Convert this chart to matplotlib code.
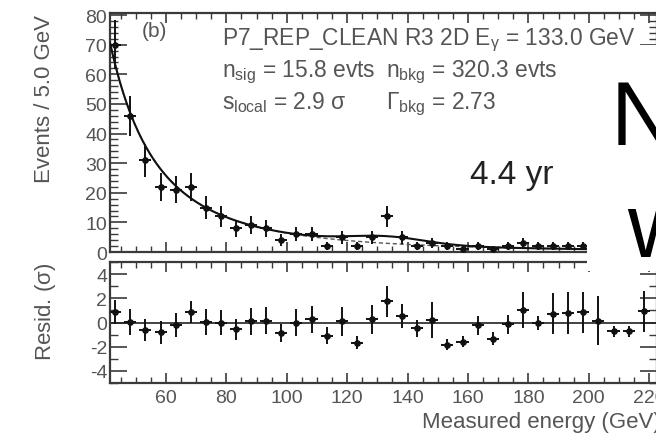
import numpy as np
import matplotlib
matplotlib.use("Agg")
import matplotlib.pyplot as plt
from matplotlib.patches import Rectangle
from matplotlib.ticker import MultipleLocator

plt.rcParams['font.family'] = ['Liberation Sans', 'DejaVu Sans']
plt.rcParams['mathtext.fontset'] = 'custom'
plt.rcParams['mathtext.rm'] = 'Liberation Sans'
plt.rcParams['mathtext.it'] = 'Liberation Sans'
plt.rcParams['mathtext.default'] = 'regular'
plt.rcParams['axes.unicode_minus'] = False

# ---------------- data ----------------
energy = [43.2, 48.2, 53.2, 58.2, 63.2, 68.2, 73.2, 78.2, 83.2, 88.2,
          93.2, 98.2, 103.2, 108.2, 113.2, 118.2, 123.2, 128.2, 133.2, 138.2,
          143.2, 148.2, 153.2, 158.2, 163.2, 168.2, 173.2, 178.2, 183.2, 188.2,
          193.2, 198.2, 203.2, 208.2, 213.2, 218.2]
counts = [70, 46, 31, 22, 21, 22, 15, 12, 8, 9,
          8, 4, 6, 6, 2, 5, 2, 5, 12, 5,
          2, 3, 2, 1, 2, 1, 2, 3, 2, 2,
          2, 2, 2, 1, 1, 2]
resid = [0.87, 0.03, -0.65, -0.80, -0.20, 0.87, 0.05, 0.00, -0.57, 0.10,
         0.16, -0.84, 0.00, 0.25, -1.10, 0.10, -1.66, 0.25, 1.74, 0.51,
         -0.49, 0.19, -1.85, -1.60, -0.24, -1.33, -0.16, 1.06, -0.03, 0.71,
         0.79, 0.84, 0.16, -0.71, -0.71, 0.92]
resid_err = [1.0, 1.1, 0.9, 0.95, 1.0, 0.9, 1.1, 1.0, 0.85, 1.1,
             1.1, 0.75, 1.1, 1.1, 0.7, 1.2, 0.55, 1.2, 1.3, 1.0,
             0.7, 1.5, 0.45, 0.45, 0.8, 0.55, 0.8, 1.5, 0.6, 1.7,
             1.7, 1.7, 2.0, 0.45, 0.45, 1.7]

# fit parameters printed on the chart
E_line = 133.0
n_sig = 15.8
n_bkg = 320.3
gamma_bkg = 2.73
line_width = 13.0   # energy resolution (estimate)
bin_w = 5.0
x_lo, x_hi = 41.46, 222.6

x_ticks = [60, 80, 100, 120, 140, 160, 180, 200, 220]
y_ticks_top = [0, 10, 20, 30, 40, 50, 60, 70, 80]
y_ticks_res = [-4, -2, 0, 2, 4]

# ---------------- figure ----------------
W, H = 656, 435
fig = plt.figure(figsize=(W / 100, H / 100), dpi=100)
ax1 = fig.add_axes([110 / W, 1 - 253 / H, (657 - 110) / W, (253 - 14) / H])
ax2 = fig.add_axes([110 / W, 1 - 384 / H, (657 - 110) / W, (384 - 263) / H])

spine_c = '#3a3a3a'
text_c = '#555555'

E = np.asarray(energy)
C = np.asarray(counts, dtype=float)

# model curve from printed parameters
Eg = np.linspace(x_lo, x_hi, 600)
norm = (x_lo ** (1 - gamma_bkg) - x_hi ** (1 - gamma_bkg)) / (gamma_bkg - 1)
bkg = n_bkg * bin_w * Eg ** (-gamma_bkg) / norm
sig = n_sig * bin_w / (np.sqrt(2 * np.pi) * line_width) * np.exp(-0.5 * ((Eg - E_line) / line_width) ** 2)
ax1.plot(Eg, bkg, color='#555555', lw=1.0, ls=(0, (3, 2)), zorder=2)
ax1.plot(Eg, bkg + sig, color='#111111', lw=1.5, zorder=3)

ax1.errorbar(E, C, yerr=np.sqrt(C), xerr=2.0, fmt='o', ms=3.8, color='#111111',
             elinewidth=1.4, capsize=0, zorder=4)

ax2.axhline(0, color='#222222', lw=1.2, zorder=2)
ax2.errorbar(E, resid, yerr=resid_err, xerr=2.0, fmt='o', ms=3.8, color='#111111',
             elinewidth=1.4, capsize=0, zorder=4)

for ax in (ax1, ax2):
    ax.set_xlim(x_lo, x_hi)
    ax.xaxis.set_major_locator(MultipleLocator(20))
    ax.xaxis.set_minor_locator(MultipleLocator(5))
    for s in ax.spines.values():
        s.set_color(spine_c)
        s.set_linewidth(1.6)
    ax.tick_params(which='both', direction='in', top=True, right=True, color=spine_c,
                   labelcolor=text_c, labelsize=14, pad=2)
    ax.tick_params(which='major', length=7, width=1.2)
    ax.tick_params(which='minor', length=4, width=1.0)
    ax.tick_params(axis='y', which='major', length=12)
    ax.tick_params(axis='y', which='minor', length=6)

ax1.set_ylim(0, 80.7)
ax1.set_yticks(y_ticks_top)
ax1.yaxis.set_minor_locator(MultipleLocator(2))
ax1.tick_params(axis='x', labelbottom=False)

ax2.set_ylim(-5, 5)
ax2.set_yticks(y_ticks_res)
ax2.yaxis.set_minor_locator(MultipleLocator(1))
ax2.set_xticks(x_ticks)
ax2.set_xticklabels([str(t) for t in x_ticks])
ax2.tick_params(axis='x', pad=4)

# axis labels
fig.text(45 / W, 1 - 99 / H, "Events / 5.0 GeV", rotation=90, ha='center', va='center',
         fontsize=16, color=text_c)
fig.text(45 / W, 1 - 312 / H, r"Resid. ($\sigma$)", rotation=90, ha='center', va='center',
         fontsize=16, color=text_c)
fig.text(422 / W, 1 - 428 / H, "Measured energy (GeV)", ha='left', va='baseline',
         fontsize=16, color=text_c)

# in-plot annotation
fig.text(142 / W, 1 - 37 / H, "(b)", ha='left', va='baseline', fontsize=15, color=text_c)
fig.text(222 / W, 1 - 45 / H, r"P7_REP_CLEAN R3 2D E$_{\gamma}$ = 133.0 GeV", ha='left',
         va='baseline', fontsize=16.4, color=text_c)
fig.text(222 / W, 1 - 77 / H, r"n$_{sig}$ = 15.8 evts", ha='left', va='baseline',
         fontsize=16.4, color=text_c)
fig.text(386 / W, 1 - 77 / H, r"n$_{bkg}$ = 320.3 evts", ha='left', va='baseline',
         fontsize=16.4, color=text_c)
fig.text(222 / W, 1 - 109 / H, r"s$_{local}$ = 2.9 $\sigma$", ha='left', va='baseline',
         fontsize=16.4, color=text_c)
fig.text(386 / W, 1 - 109 / H, r"$\Gamma_{bkg}$ = 2.73", ha='left', va='baseline',
         fontsize=16.4, color=text_c)
fig.text(470 / W, 1 - 184 / H, "4.4 yr", ha='left', va='baseline', fontsize=24,
         color='#222222')

# white overlay box with large partial letters
fig.add_artist(Rectangle((587 / W, 1 - 272 / H), (662 - 587) / W, (272 - 46) / H,
                         transform=fig.transFigure, facecolor='white', edgecolor='none',
                         zorder=10))
fig.text(611 / W, 1 - 145 / H, "N", ha='left', va='baseline', fontsize=65,
         color='black', zorder=11)
fig.text(627 / W, 1 - 257 / H, "w", ha='left', va='baseline', fontsize=65,
         color='black', zorder=11)

fig.savefig("out.png", dpi=100)
